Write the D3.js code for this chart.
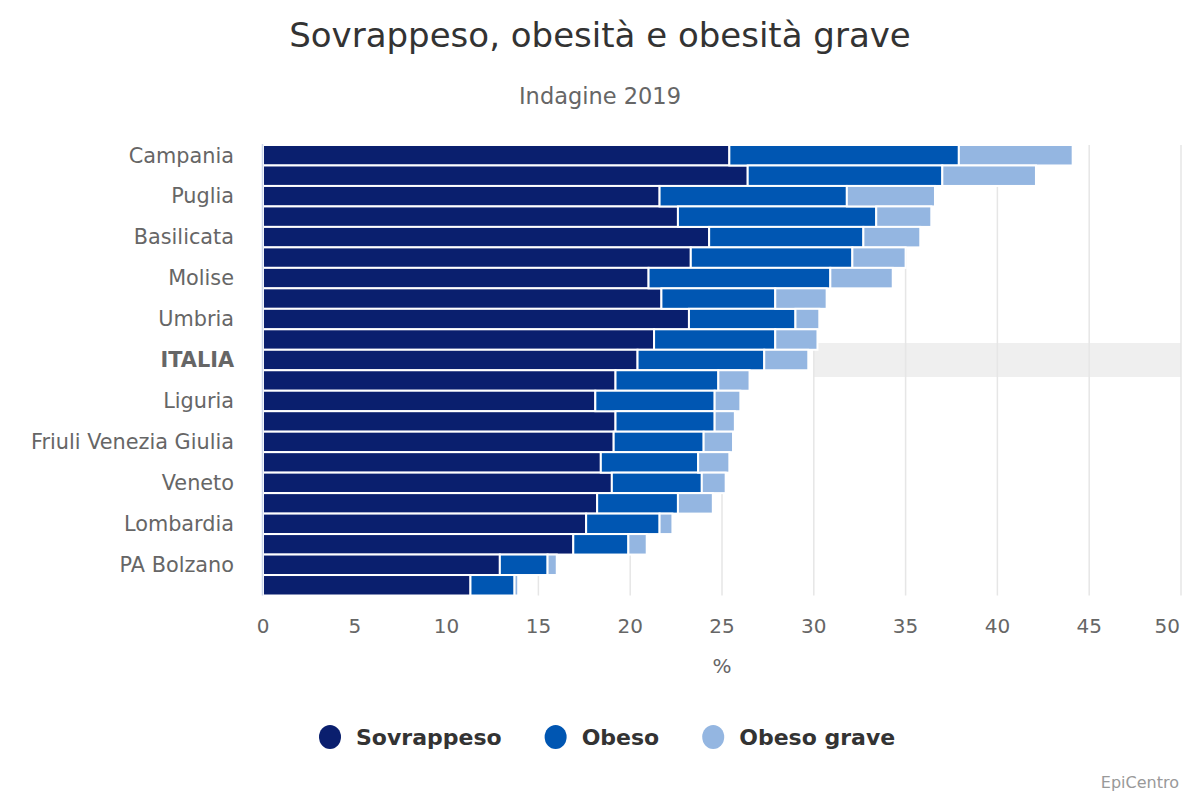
<!DOCTYPE html>
<html>
<head>
<meta charset="utf-8">
<script src="https://cdn.jsdelivr.net/npm/d3@7"></script>
<style>
  html, body { margin: 0; padding: 0; background: #fff; }
  svg { display: block; font-family: "DejaVu Sans", sans-serif; }
</style>
</head>
<body>
<svg id="chart" width="1200" height="800"></svg>
<script>
// ---- data ----
const categories = [
  "Campania", "Calabria", "Puglia", "Sicilia", "Basilicata", "Abruzzo",
  "Molise", "Lazio", "Umbria", "Sardegna", "ITALIA", "Marche",
  "Liguria", "Toscana", "Friuli Venezia Giulia", "Emilia-Romagna", "Veneto", "Piemonte",
  "Lombardia", "Valle d'Aosta", "PA Bolzano", "PA Trento"
];
const sovrappeso = [25.4, 26.4, 21.6, 22.6, 24.3, 23.3, 21.0, 21.7, 23.2, 21.3, 20.4, 19.2, 18.1, 19.2, 19.1, 18.4, 19.0, 18.2, 17.6, 16.9, 12.9, 11.3];
const obeso      = [12.5, 10.6, 10.2, 10.8,  8.4,  8.8,  9.9,  6.2,  5.8,  6.6,  6.9,  5.6,  6.5,  5.4,  4.9,  5.3,  4.9,  4.4,  4.0,  3.0,  2.6,  2.4];
const obesoGrave = [ 6.2,  5.1,  4.8,  3.0,  3.1,  2.9,  3.4,  2.8,  1.3,  2.3,  2.4,  1.7,  1.4,  1.1,  1.6,  1.7,  1.3,  1.9,  0.7,  1.0,  0.5,  0.2];
const seriesNames = ["Sovrappeso", "Obeso", "Obeso grave"];
const seriesColors = ["#0a1f6e", "#0056b2", "#94b6e1"];
const xTicks = [0, 5, 10, 15, 20, 25, 30, 35, 40, 45, 50];
const highlight = "ITALIA";

// ---- layout ----
const svg = d3.select("#chart");
const plot = { left: 263, right: 1181, top: 145, bottom: 595.5 };

const x = d3.scaleLinear().domain([0, 50]).range([plot.left, plot.right]);
const y = d3.scaleBand().domain(categories).range([plot.top, plot.bottom]).padding(0);

// title & subtitle
svg.append("text").attr("x", 600).attr("y", 47).attr("text-anchor", "middle")
  .attr("font-size", 34).attr("fill", "#333333").text("Sovrappeso, obesità e obesità grave");
svg.append("text").attr("x", 600).attr("y", 104).attr("text-anchor", "middle")
  .attr("font-size", 22.5).attr("fill", "#666666").text("Indagine 2019");

// highlight band (ITALIA)
const hc = y(highlight) + y.bandwidth() / 2;
svg.append("rect")
  .attr("x", x(30)).attr("width", x(50) - x(30))
  .attr("y", hc - 17).attr("height", 34)
  .attr("fill", "#efefef");

// gridlines
svg.append("g").selectAll("line").data(xTicks.filter(d => d > 0)).join("line")
  .attr("x1", d => x(d)).attr("x2", d => x(d))
  .attr("y1", plot.top).attr("y2", plot.bottom)
  .attr("stroke", "#e6e6e6").attr("stroke-width", 1.5);

// stacked bars
const rows = categories.map((c, i) => ({ cat: c, vals: [sovrappeso[i], obeso[i], obesoGrave[i]] }));
const stack = d3.stack().keys([0, 1, 2]).value((d, k) => d.vals[k]);
const stacked = stack(rows);

svg.append("g").selectAll("g").data(stacked).join("g")
  .attr("fill", (d, i) => seriesColors[i])
  .selectAll("rect").data(d => d).join("rect")
  .attr("x", d => x(d[0]))
  .attr("width", d => Math.max(0, x(d[1]) - x(d[0])))
  .attr("y", d => y(d.data.cat))
  .attr("height", y.bandwidth())
  .attr("stroke", "#ffffff").attr("stroke-width", 2);

// y axis line
svg.append("line")
  .attr("x1", plot.left - 0.5).attr("x2", plot.left - 0.5)
  .attr("y1", plot.top - 1).attr("y2", plot.bottom)
  .attr("stroke", "#ccd6eb").attr("stroke-width", 1.5);

// category labels (every other one shown)
svg.append("g").selectAll("text").data(categories.filter((c, i) => i % 2 === 0)).join("text")
  .attr("x", 234).attr("y", d => y(d) + y.bandwidth() / 2)
  .attr("dy", "0.35em").attr("text-anchor", "end")
  .attr("font-size", 20.8).attr("fill", "#666666")
  .attr("font-weight", d => d === highlight ? "bold" : "normal")
  .text(d => d);

// x tick labels
svg.append("g").selectAll("text").data(xTicks).join("text")
  .attr("x", d => d === 50 ? x(d) - 1 : x(d))
  .attr("y", 633)
  .attr("text-anchor", d => d === 50 ? "end" : "middle")
  .attr("font-size", 20).attr("fill", "#666666")
  .text(d => d);

// axis title
svg.append("text").attr("x", 722).attr("y", 673).attr("text-anchor", "middle")
  .attr("font-size", 20).attr("fill", "#666666").text("%");

// legend
const legend = svg.append("g");
let cursor = 0;
seriesNames.forEach((name, i) => {
  const g = legend.append("g");
  g.append("ellipse").attr("cx", 11).attr("cy", 0).attr("rx", 11).attr("ry", 12).attr("fill", seriesColors[i]);
  const t = g.append("text").attr("x", 37).attr("y", 8).attr("font-size", 22)
    .attr("font-weight", "bold").attr("fill", "#333333").text(name);
  const w = 37 + t.node().getComputedTextLength();
  g.attr("transform", `translate(${cursor},737)`);
  cursor += w + 43;
});
legend.attr("transform", `translate(${319},0)`);

// credits
svg.append("text").attr("x", 1179).attr("y", 788).attr("text-anchor", "end")
  .attr("font-size", 16).attr("fill", "#999999").text("EpiCentro");
</script>
</body>
</html>
